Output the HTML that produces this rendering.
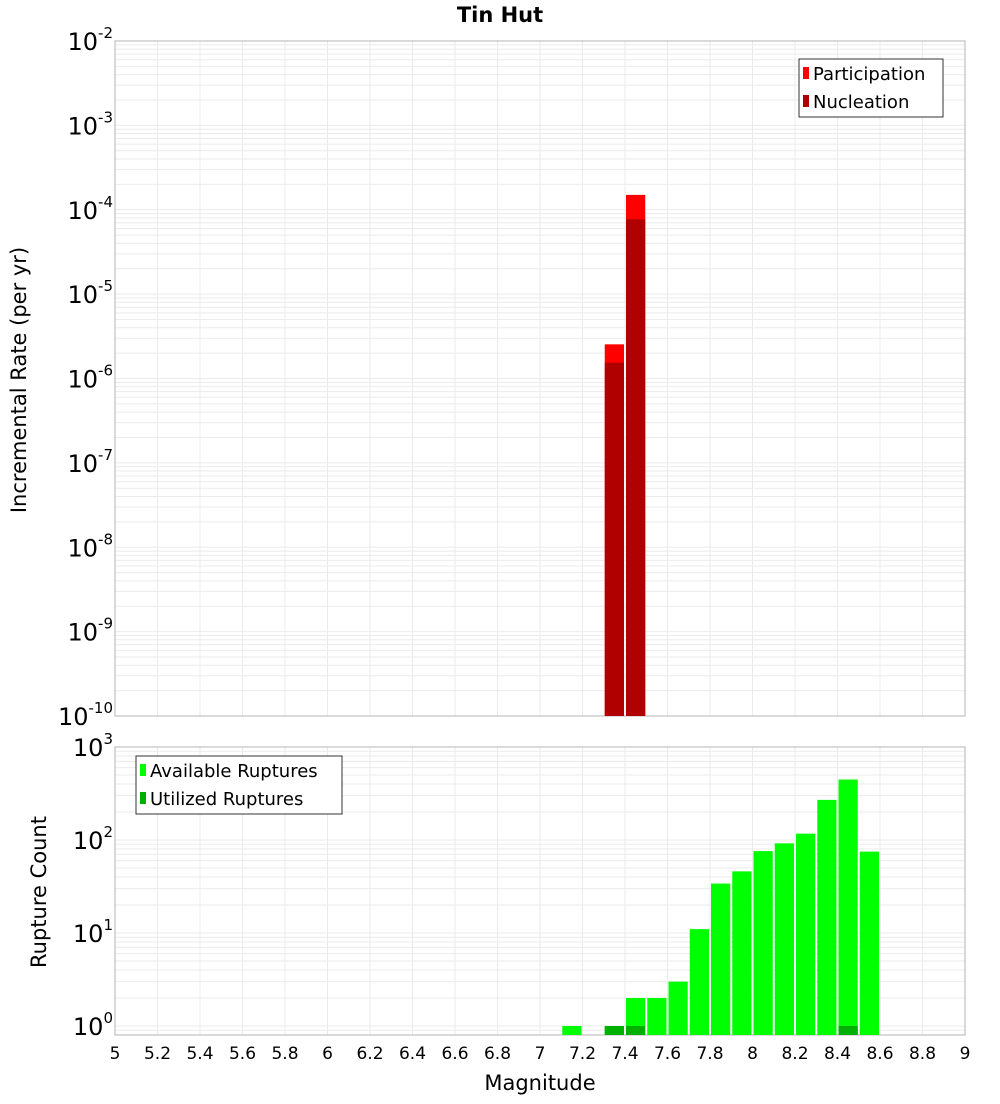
<!DOCTYPE html>
<html><head><meta charset="utf-8"><style>
body{margin:0;background:#fff;font-family:"DejaVu Sans","Liberation Sans",sans-serif}
svg text{font-family:"DejaVu Sans","Liberation Sans",sans-serif}
</style></head><body>
<svg id="c" width="1000" height="1100" xmlns="http://www.w3.org/2000/svg">
<text x="500" y="22" text-anchor="middle" font-size="21" font-weight="bold">Tin Hut</text>
<g id="top"></g>
<g id="bot"></g>
</svg>
<script>
const magBins=[7.35,7.45];
const participation=[2.54e-6,1.5e-4];
const nucleation=[1.54e-6,7.7e-5];
const countBins=[7.15,7.35,7.45,7.55,7.65,7.75,7.85,7.95,8.05,8.15,8.25,8.35,8.45,8.55];
const available=[1,1,2,2,3,11,34,46,76,92,117,270,447,75];
const utilized=[0,1,1,0,0,0,0,0,0,0,0,0,1,0];
const xTicks=[5,5.2,5.4,5.6,5.8,6,6.2,6.4,6.6,6.8,7,7.2,7.4,7.6,7.8,8,8.2,8.4,8.6,8.8,9];
const topExp=[-2,-3,-4,-5,-6,-7,-8,-9,-10];
const botExp=[0,1,2,3];
const NS='http://www.w3.org/2000/svg';
const L=115,R=965;
function X(v){return L+(v-5)/4*(R-L);}
function mk(p,t,a){const e=document.createElementNS(NS,t);for(const k in a)e.setAttribute(k,a[k]);p.appendChild(e);return e;}
function plot(g,top,bot,lmin,lmax){
  const Y=v=>bot-(Math.log10(v)-lmin)/(lmax-lmin)*(bot-top);
  // grid
  for(let d=Math.floor(lmin);d<lmax;d++)for(let m=1;m<10;m++){const v=m*Math.pow(10,d);const lv=Math.log10(v);if(lv<lmin||lv>lmax)continue;const y=Y(v);
    const ln=mk(g,'line',{x1:L,x2:R,y1:y,y2:y,stroke:'#ebebeb','stroke-width':1});
    
    }
  xTicks.forEach(t=>{const ln=mk(g,'line',{x1:X(t),x2:X(t),y1:top,y2:bot,stroke:'#ebebeb','stroke-width':1});
    
    });
  const fr=mk(g,'rect',{x:L,y:top,width:R-L,height:bot-top,fill:'none',stroke:'#b4b4b4','stroke-width':1});
  
  
  return Y;
}
function bar(g,x,v,Y,bot,fill,name){const y=Y(v);const r=mk(g,'rect',{x:X(x-0.05)+1,y:y,width:X(x+0.05)-X(x-0.05)-2,height:bot-y,fill:fill});
  
  }
function ylab(g,e,y){const t=mk(g,'text',{x:113,y:y+9,'text-anchor':'end','font-size':24});
  
  
  t.innerHTML='10<tspan dy="-12" font-size="15">'+e+'</tspan>';}
// top
const gt=document.getElementById('top');
const Yt=plot(gt,41,716,-10,-2);
magBins.forEach((m,i)=>{bar(gt,m,participation[i],Yt,716,'#ff0000','participation-bar');bar(gt,m,nucleation[i],Yt,716,'#b00000','nucleation-bar');});
topExp.forEach(e=>ylab(gt,e,Yt(Math.pow(10,e))));
// bottom
const gb=document.getElementById('bot');
const lminB=Math.log10(0.8);
const Yb=plot(gb,747,1035,lminB,3);
countBins.forEach((m,i)=>{bar(gb,m,available[i],Yb,1035,'#00ff00','available-bar');if(utilized[i]>0)bar(gb,m,utilized[i],Yb,1035,'#00b000','utilized-bar');});
botExp.forEach(e=>ylab(gb,e,Yb(Math.pow(10,e))));
xTicks.forEach(t=>{const tx=mk(gb,'text',{x:X(t),y:1059,'text-anchor':'middle','font-size':17});
  
  
  tx.textContent=String(t);});
</script>
<svg style="position:absolute;left:0;top:0" width="1000" height="1100" xmlns="http://www.w3.org/2000/svg">
<text x="540" y="1090" text-anchor="middle" font-size="21">Magnitude</text>
<text transform="translate(26,380) rotate(-90)" text-anchor="middle" font-size="21">Incremental Rate (per yr)</text>
<text transform="translate(46,892) rotate(-90)" text-anchor="middle" font-size="21">Rupture Count</text>
<g>
<rect x="799" y="59" width="144" height="58" fill="#fff" stroke="#333"/>
<rect x="803" y="67" width="6" height="12" fill="#ff0000"/><text x="813" y="80" font-size="18">Participation</text>
<rect x="803" y="95" width="6" height="12" fill="#b00000"/><text x="813" y="108" font-size="18">Nucleation</text>
</g>
<g>
<rect x="136" y="756" width="206" height="58" fill="#fff" stroke="#333"/>
<rect x="140" y="764" width="6" height="12" fill="#00ff00"/><text x="150" y="777" font-size="18">Available Ruptures</text>
<rect x="140" y="792" width="6" height="12" fill="#00b000"/><text x="150" y="805" font-size="18">Utilized Ruptures</text>
</g>
</svg>
</body></html>
